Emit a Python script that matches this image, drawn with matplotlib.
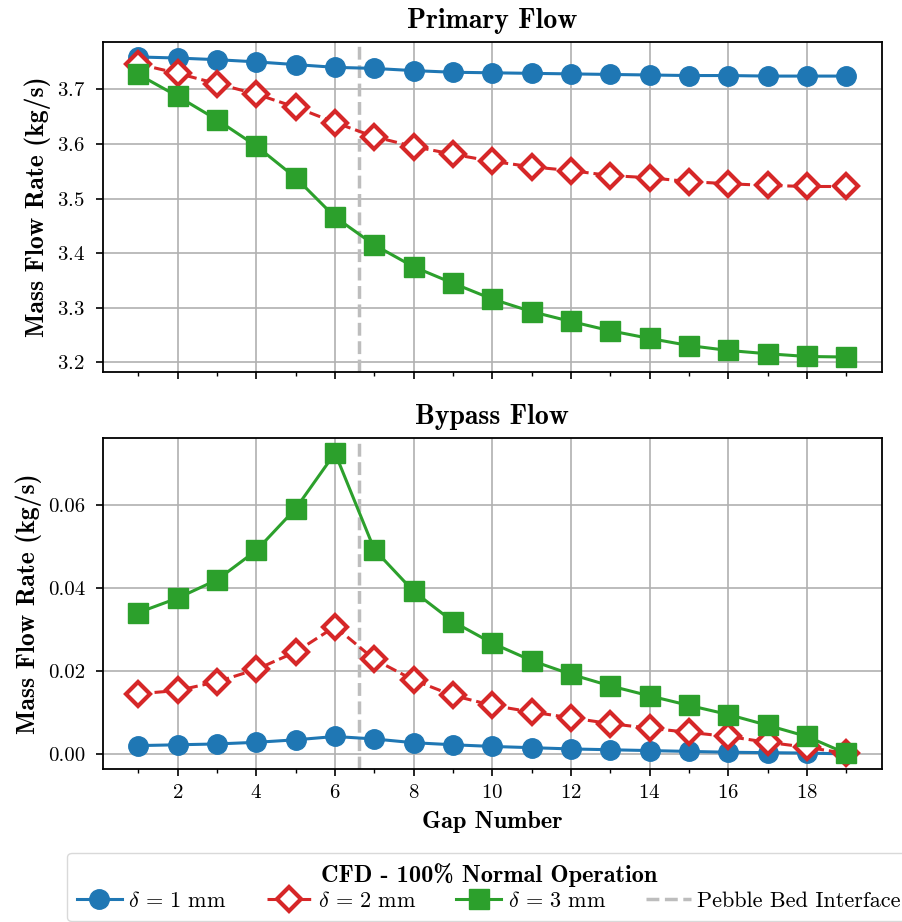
import numpy as np
import matplotlib
matplotlib.use('Agg')
import matplotlib.pyplot as plt
from matplotlib.ticker import MultipleLocator, FormatStrFormatter

plt.rcParams['font.family'] = 'cmr10'
plt.rcParams['mathtext.fontset'] = 'cm'
plt.rcParams['axes.formatter.use_mathtext'] = True

gaps = np.arange(1, 20)

# primary flow (kg/s)
primary_1mm = [3.759, 3.757, 3.754, 3.750, 3.745, 3.740, 3.738, 3.734, 3.731, 3.730,
               3.729, 3.728, 3.727, 3.726, 3.725, 3.725, 3.724, 3.724, 3.724]
primary_2mm = [3.746, 3.729, 3.710, 3.691, 3.667, 3.639, 3.613, 3.595, 3.581, 3.568,
               3.558, 3.551, 3.542, 3.538, 3.531, 3.527, 3.524, 3.522, 3.522]
primary_3mm = [3.727, 3.687, 3.644, 3.596, 3.538, 3.466, 3.415, 3.375, 3.345, 3.316,
               3.293, 3.275, 3.258, 3.244, 3.231, 3.222, 3.216, 3.211, 3.210]

# bypass flow (kg/s)
bypass_1mm = [0.0020, 0.0022, 0.0024, 0.0028, 0.0034, 0.0042, 0.0036, 0.0027, 0.0022, 0.0018,
              0.0015, 0.0012, 0.0010, 0.0008, 0.0006, 0.0004, 0.0003, 0.0002, 0.0000]
bypass_2mm = [0.0145, 0.0153, 0.0174, 0.0204, 0.0246, 0.0307, 0.0228, 0.0178, 0.0141, 0.0117,
              0.0101, 0.0087, 0.0073, 0.0062, 0.0052, 0.0042, 0.0028, 0.0016, 0.0001]
bypass_3mm = [0.0341, 0.0376, 0.0420, 0.0491, 0.0592, 0.0726, 0.0493, 0.0392, 0.0319, 0.0267,
              0.0225, 0.0192, 0.0164, 0.0140, 0.0117, 0.0095, 0.0069, 0.0042, 0.0001]

interface_x = 6.6
labels = [r'$\delta\,=\,1$ mm', r'$\delta\,=\,2$ mm', r'$\delta\,=\,3$ mm']

fig = plt.figure(figsize=(9.02, 9.22), dpi=100)
ax1 = fig.add_axes([0.1142, 0.5965, 0.8633, 0.358])
ax2 = fig.add_axes([0.1142, 0.166, 0.8633, 0.359], sharex=ax1)

bold = {'family': 'cmb10'}


def draw(ax, d1, d2, d3):
    ax.plot(gaps, d1, '-o', color='#1f77b4', lw=2.2, ms=14, label=labels[0])
    ax.plot(gaps, d2, '--D', color='#d62728', lw=2.2, ms=12, mfc='white', mew=3,
            label=labels[1])
    ax.plot(gaps, d3, '-s', color='#2ca02c', lw=2.2, ms=14, label=labels[2])
    ax.axvline(interface_x, color='#bdbdbd', lw=2.5, ls='--', label='Pebble Bed Interface',
               zorder=1.5)
    ax.grid(True, which='major', color='#b0b0b0', lw=1.2)
    ax.set_axisbelow(True)
    ax.xaxis.set_major_locator(MultipleLocator(2))
    ax.xaxis.set_minor_locator(MultipleLocator(1))
    ax.tick_params(which='major', length=5, width=1.2, labelsize=15)
    ax.tick_params(which='minor', length=3, width=1.0)
    ax.tick_params(axis='y', which='major', pad=8)
    ax.tick_params(axis='x', which='major', pad=6)
    for s in ax.spines.values():
        s.set_linewidth(1.3)
    ax.set_ylabel('Mass Flow Rate (kg/s)', fontdict=bold, fontsize=18.5)


draw(ax1, primary_1mm, primary_2mm, primary_3mm)
draw(ax2, bypass_1mm, bypass_2mm, bypass_3mm)

ax1.yaxis.set_major_locator(MultipleLocator(0.1))
ax1.set_title('Primary Flow', fontdict=bold, fontsize=20, pad=10)
plt.setp(ax1.get_xticklabels(), visible=False)

ax2.yaxis.set_major_locator(MultipleLocator(0.02))
ax2.yaxis.set_major_formatter(FormatStrFormatter('%.2f'))
ax2.set_title('Bypass Flow', fontdict=bold, fontsize=20, pad=10)
ax2.set_xlabel('Gap Number', fontdict=bold, fontsize=17.5, labelpad=6)

handles, labs = ax2.get_legend_handles_labels()
leg = fig.legend(handles, labs, loc='upper center', bbox_to_anchor=(0.542, 0.087), ncol=4,
                 fontsize=16, title='CFD - 100% Normal Operation',
                 title_fontproperties={'family': 'cmb10', 'size': 17.5},
                 frameon=True, fancybox=True, columnspacing=1.8, handletextpad=0.3,
                 borderpad=0.45, labelspacing=0.2)
leg.get_frame().set_edgecolor('#d0d0d0')

fig.savefig('out.png', dpi=100)
